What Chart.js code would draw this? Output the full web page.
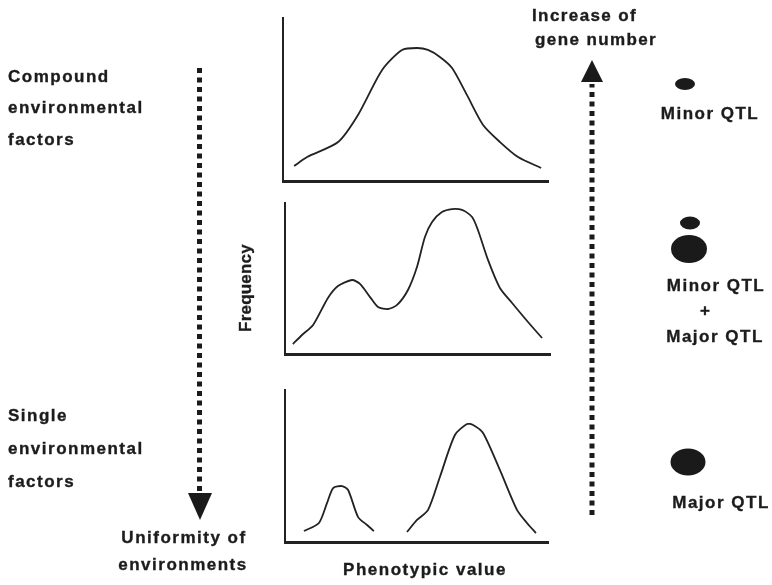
<!DOCTYPE html>
<html>
<head>
<meta charset="utf-8">
<script src="https://cdn.jsdelivr.net/npm/chart.js@4/dist/chart.umd.min.js"></script>
<style>
  html, body { margin: 0; padding: 0; background: #fff; }
  #wrap { position: relative; width: 772px; height: 585px; overflow: hidden; }
  canvas, svg { position: absolute; left: 0; top: 0; }
  svg text { font-family: "Liberation Sans", Arial, sans-serif; font-weight: bold; font-size: 17px; fill: #1c1c1c; stroke: #1c1c1c; stroke-width: 0.35px; }
</style>
</head>
<body>
<div id="wrap">
  <canvas id="c1" width="772" height="585"></canvas>
  <canvas id="c2" width="772" height="585"></canvas>
  <canvas id="c3" width="772" height="585"></canvas>
  <svg id="ann" width="772" height="585" xmlns="http://www.w3.org/2000/svg">
    <!-- left labels -->
    <text x="8" y="82" letter-spacing="1.5">Compound</text>
    <text x="8" y="113" letter-spacing="1.5">environmental</text>
    <text x="8" y="145" letter-spacing="1.5">factors</text>
    <text x="8" y="421" letter-spacing="1.5">Single</text>
    <text x="8" y="454" letter-spacing="1.5">environmental</text>
    <text x="8" y="487" letter-spacing="1.5">factors</text>
    <text x="184" y="543" text-anchor="middle" letter-spacing="1.5">Uniformity of</text>
    <text x="183" y="570" text-anchor="middle" letter-spacing="1.5">environments</text>
    <!-- axis titles -->
    <text x="425" y="575" text-anchor="middle" letter-spacing="1.5">Phenotypic value</text>
    <text transform="translate(251,288) rotate(-90)" text-anchor="middle" letter-spacing="0.2">Frequency</text>
    <!-- right labels -->
    <text x="532" y="21" letter-spacing="1.4">Increase of</text>
    <text x="535" y="45" letter-spacing="1.4">gene number</text>
    <text x="710" y="119" text-anchor="middle" letter-spacing="1.5">Minor QTL</text>
    <text x="716" y="291" text-anchor="middle" letter-spacing="1.5">Minor QTL</text>
    <text x="705" y="316" text-anchor="middle">+</text>
    <text x="715" y="342" text-anchor="middle" letter-spacing="1.5">Major QTL</text>
    <text x="721" y="508" text-anchor="middle" letter-spacing="1.5">Major QTL</text>
    <!-- QTL marks -->
    <ellipse cx="685" cy="84" rx="10" ry="6" fill="#1a1a1a"/>
    <ellipse cx="690" cy="223" rx="10" ry="6.5" fill="#1a1a1a"/>
    <ellipse cx="689" cy="249" rx="18" ry="14" fill="#1a1a1a"/>
    <ellipse cx="688" cy="462" rx="17.5" ry="13.5" fill="#1a1a1a"/>
    <!-- dotted arrows -->
    <line x1="199.5" y1="68" x2="199.5" y2="492" stroke="#1a1a1a" stroke-width="5" stroke-dasharray="5 4.5"/>
    <polygon points="188,493 212,493 200,520" fill="#1a1a1a"/>
    <line x1="592" y1="515" x2="592" y2="84" stroke="#1a1a1a" stroke-width="5" stroke-dasharray="5 4.5"/>
    <polygon points="581,82 603,82 592,60" fill="#1a1a1a"/>
  </svg>
</div>
<script>
// Panel 1: compound environments (single broad peak)
const p1X = [4.2, 9.1, 20.8, 28.3, 37.4, 44.9, 50.6, 54.7, 59.2, 63.8, 69.4, 75.5, 81.9, 88.7, 97.4];
const p1Y = [9.2, 14.7, 23.9, 40.5, 68.1, 80.4, 81.6, 80.4, 76.1, 69.3, 52.8, 34.4, 23.9, 14.7, 8.0];
// Panel 2: minor + major QTL (bimodal, overlapping)
const p2X = [3.0, 6.4, 10.6, 16.2, 20.0, 25.3, 28.3, 32.1, 35.1, 38.9, 42.3, 46.4, 49.8, 52.8, 55.5, 59.2, 63.0, 66.8, 70.6, 72.8, 76.6, 81.1, 85.7, 91.7, 97.0];
const p2Y = [6.6, 12.6, 19.2, 37.1, 45.0, 49.0, 46.4, 37.7, 31.1, 29.8, 32.5, 42.4, 57.6, 77.5, 87.4, 94.0, 96.0, 95.4, 90.7, 82.1, 62.3, 43.7, 33.8, 21.2, 10.6];
// Panel 3: major QTL (two separated peaks)
const p3aX = [7.2, 12.9, 16.0, 18.3, 21.7, 24.0, 27.8, 31.2, 33.8];
const p3aY = [7.2, 12.5, 25.7, 35.5, 36.8, 34.2, 16.4, 11.2, 7.2];
const p3bX = [46.4, 50.2, 54.4, 58.9, 64.6, 69.2, 71.5, 75.3, 81.7, 88.2, 92.0, 95.4];
const p3bY = [6.6, 14.5, 21.1, 42.8, 70.4, 77.6, 77.0, 71.7, 47.4, 21.1, 12.5, 5.9];

const W = 772, H = 585;
const ink = '#222';

function pts(xs, ys) { return xs.map((x, i) => ({ x: x, y: ys[i] })); }
function ds(xs, ys) {
  return { data: pts(xs, ys), borderColor: ink, borderWidth: 1.8, pointRadius: 0, tension: 0.25, fill: false };
}
function makeChart(id, datasets, area) {
  return new Chart(document.getElementById(id), {
    type: 'line',
    data: { datasets: datasets },
    options: {
      responsive: false,
      animation: false,
      events: [],
      layout: { padding: { left: area.l, top: area.t, right: W - area.r, bottom: H - area.b } },
      plugins: { legend: { display: false }, tooltip: { enabled: false } },
      scales: {
        x: { type: 'linear', min: 0, max: 100,
             ticks: { display: false }, grid: { display: false, drawTicks: false },
             border: { display: true, width: 3, color: ink } },
        y: { type: 'linear', min: 0, max: 100,
             ticks: { display: false }, grid: { display: false, drawTicks: false },
             border: { display: true, width: 2, color: ink } }
      }
    }
  });
}

makeChart('c1', [ds(p1X, p1Y)], { l: 283, t: 18, r: 548, b: 181 });
makeChart('c2', [ds(p2X, p2Y)], { l: 285, t: 203, r: 550, b: 354 });
makeChart('c3', [ds(p3aX, p3aY), ds(p3bX, p3bY)], { l: 285, t: 390, r: 548, b: 542 });
</script>
</body>
</html>
